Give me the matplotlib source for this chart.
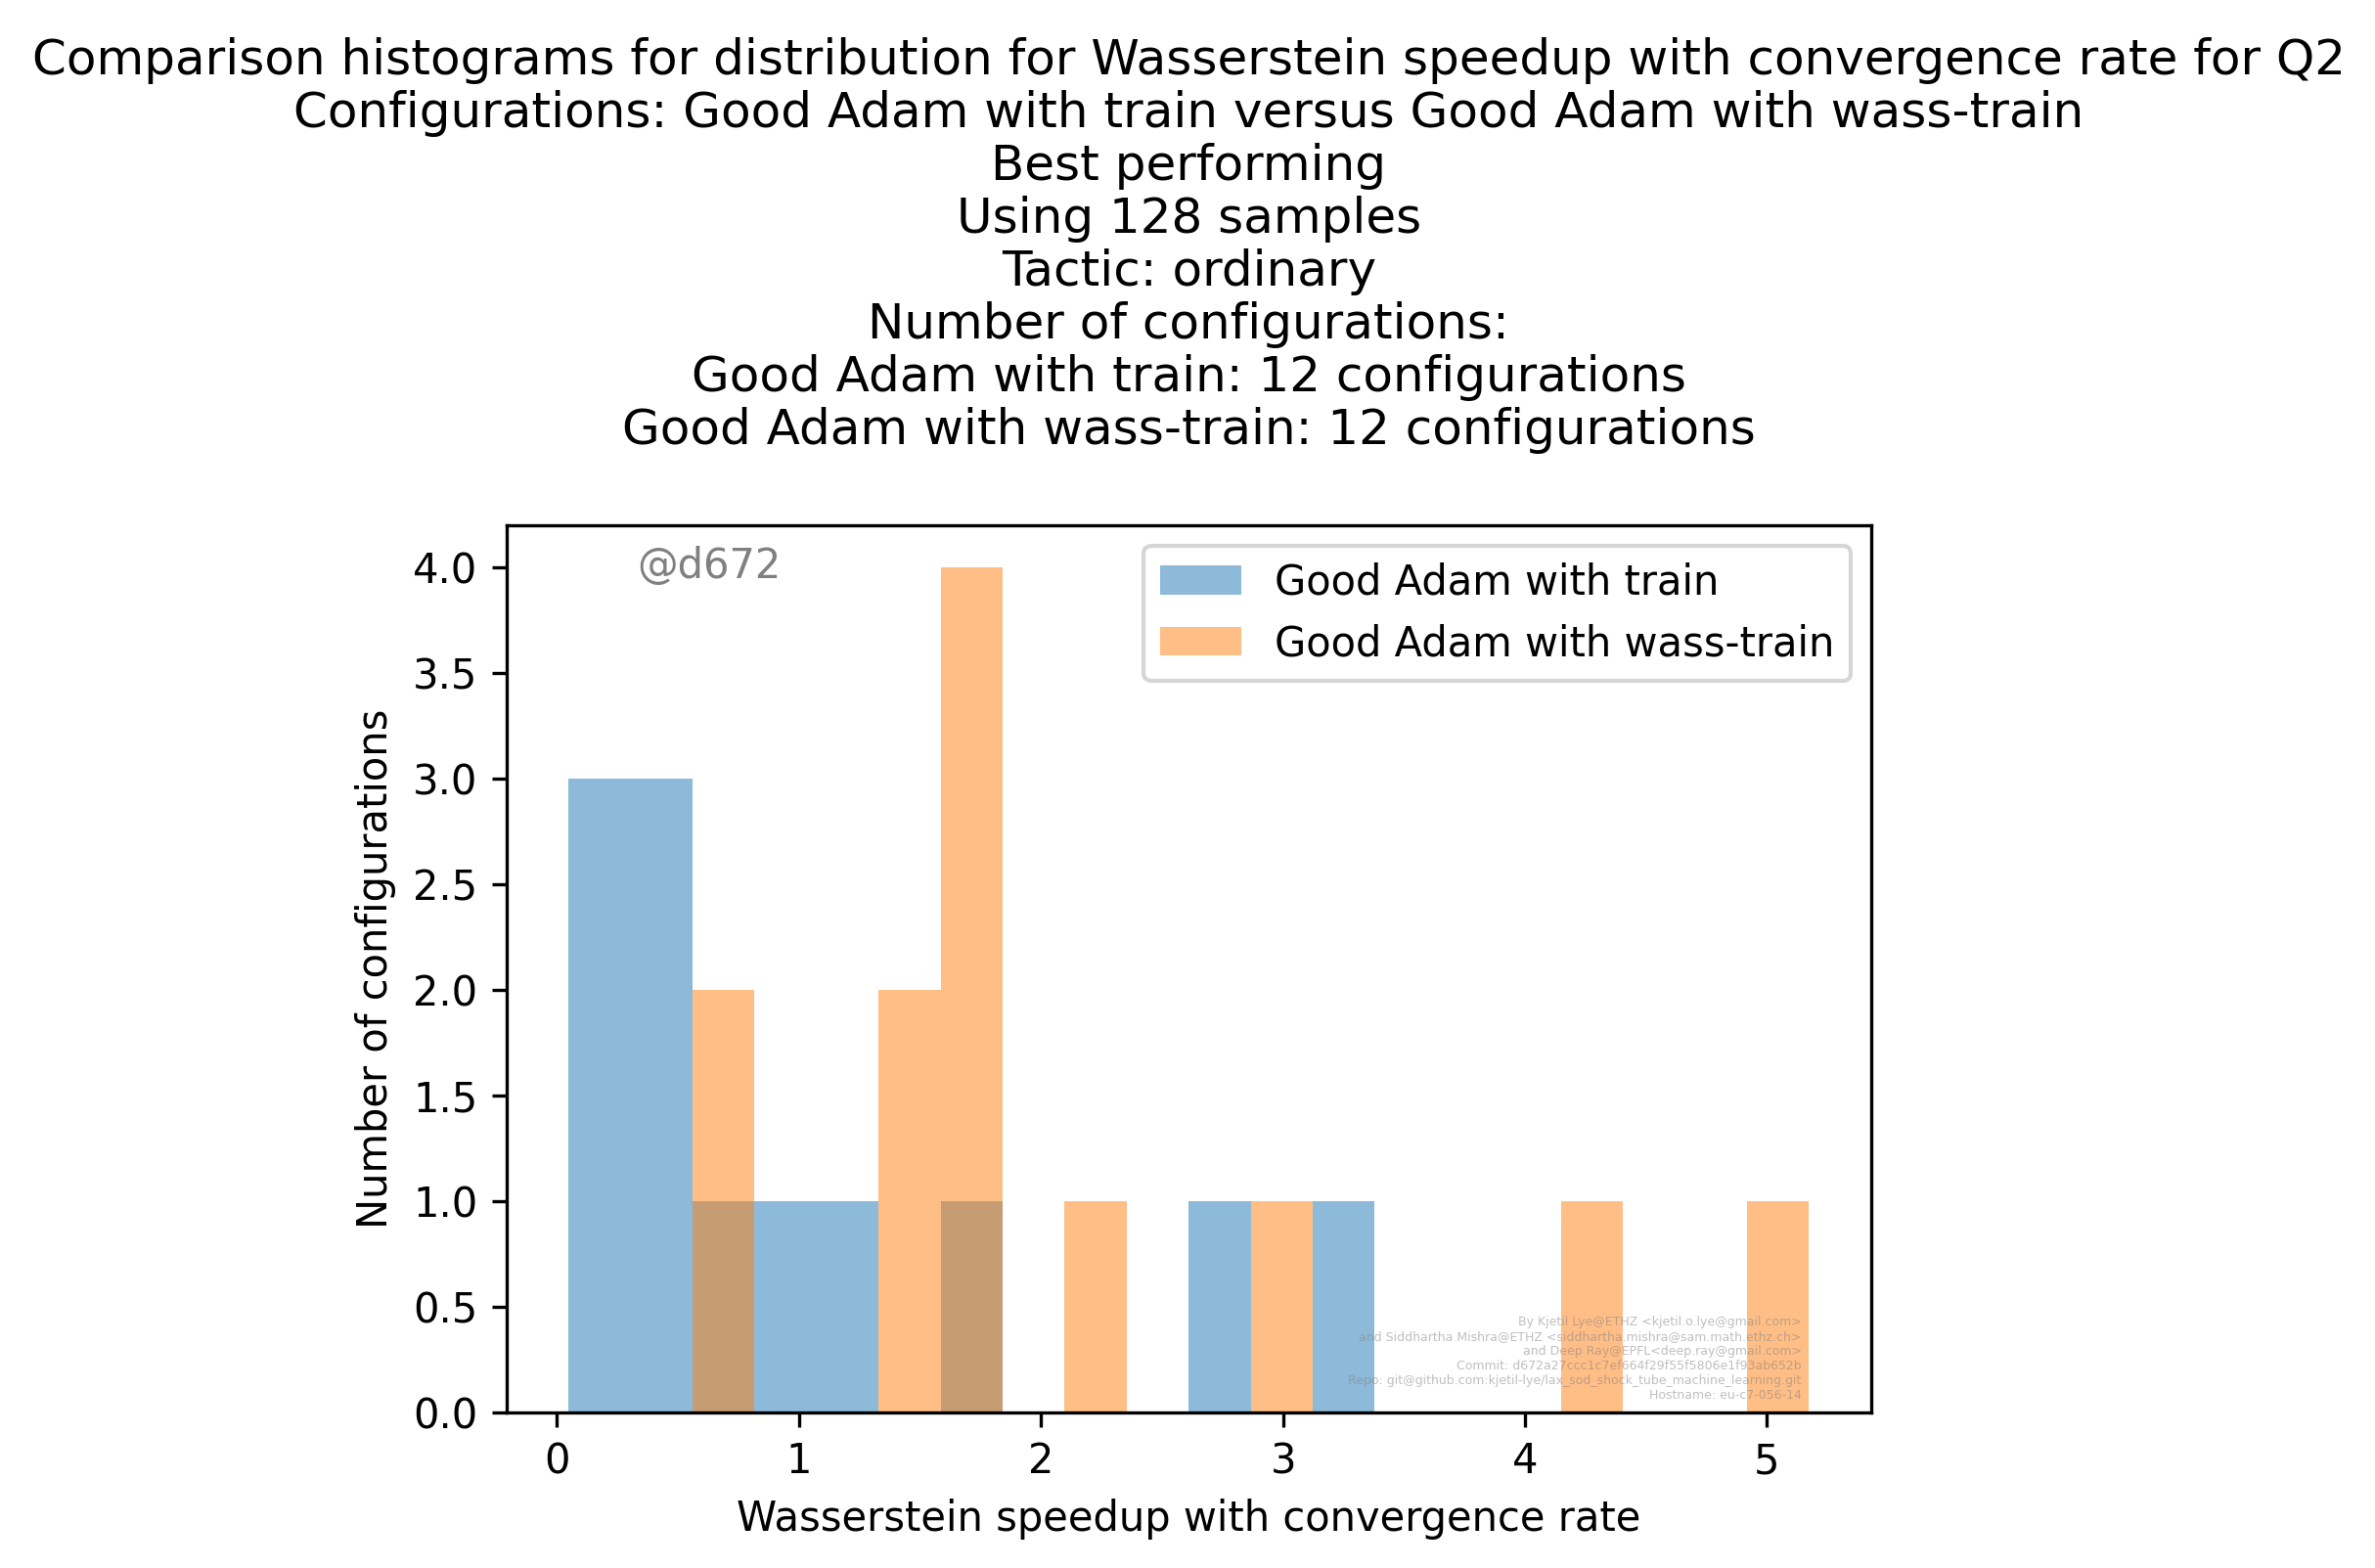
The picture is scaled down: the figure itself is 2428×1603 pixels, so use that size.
import numpy as np
import matplotlib
matplotlib.use("Agg")
import matplotlib.pyplot as plt

# shared bin edges (20 bins)
bin_lo, bin_hi, n_bins = 0.047, 5.173, 20
train_counts = [3, 3, 1, 1, 1, 0, 1, 0, 0, 0, 1, 0, 1, 0, 0, 0, 0, 0, 0, 0]
wass_counts = [0, 0, 2, 0, 0, 2, 4, 0, 1, 0, 0, 1, 0, 0, 0, 0, 1, 0, 0, 1]
labels = ["Good Adam with train", "Good Adam with wass-train"]

title = ("Comparison histograms for distribution for Wasserstein speedup with convergence rate for Q2\n"
         "Configurations: Good Adam with train versus Good Adam with wass-train\n"
         "Best performing\n"
         "Using 128 samples\n"
         "Tactic: ordinary\n"
         "Number of configurations:\n"
         "Good Adam with train: 12 configurations\n"
         "Good Adam with wass-train: 12 configurations")

credits = ("By Kjetil Lye@ETHZ <kjetil.o.lye@gmail.com>\n"
           "and Siddhartha Mishra@ETHZ <siddhartha.mishra@sam.math.ethz.ch>\n"
           "and Deep Ray@EPFL<deep.ray@gmail.com>\n"
           "Commit: d672a27ccc1c7ef664f29f55f5806e1f93ab652b\n"
           "Repo: git@github.com:kjetil-lye/lax_sod_shock_tube_machine_learning.git\n"
           "Hostname: eu-c7-056-14")

DPI = 300
fig = plt.figure(figsize=(2429 / DPI, 1603 / DPI), dpi=DPI)
ax = fig.add_axes([517.7 / 2429, 1 - 1444 / 1603, 1395 / 2429, 907 / 1603])

edges = np.linspace(bin_lo, bin_hi, n_bins + 1)
centers = 0.5 * (edges[:-1] + edges[1:])
ax.hist(centers, bins=edges, weights=train_counts, alpha=0.5, label=labels[0])
ax.hist(centers, bins=edges, weights=wass_counts, alpha=0.5, label=labels[1])

ax.set_xlabel("Wasserstein speedup with convergence rate")
ax.set_ylabel("Number of configurations")
ax.set_title(title, fontsize=12, linespacing=1.156, pad=20)
ax.legend()

ax.text(0.096, 0.94, "@d672", transform=ax.transAxes, color="grey", fontsize=10, va="baseline")
ax.text(0.949, 0.012, credits, transform=ax.transAxes, color="grey", alpha=0.5,
        fontsize=3, ha="right", va="bottom", multialignment="right")

fig.savefig("out.png", dpi=DPI)
